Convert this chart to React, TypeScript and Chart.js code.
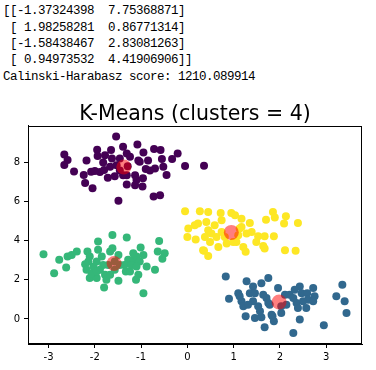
import { useEffect, useRef } from "react";
import { Chart, registerables } from "chart.js";

Chart.register(...registerables);

const outputLines = [
  "[[-1.37324398  7.75368871]",
  " [ 1.98258281  0.86771314]",
  " [-1.58438467  2.83081263]",
  " [ 0.94973532  4.41906906]]",
  "Calinski-Harabasz score: 1210.089914",
];

const chartTitle = "K-Means (clusters = 4)";

const clusterPurple = [
  [-1.54, 9.31], [-2.66, 8.4], [-2.59, 8.11], [-2.66, 7.86], [-2.45, 7.53], [-2.24, 7.35],
  [-2.21, 6.94], [-2.05, 6.67], [-2.18, 8.09], [-1.95, 8.64], [-1.94, 8.32], [-1.65, 8.63],
  [-1.39, 8.79], [-1.08, 8.91], [-1.31, 8.45], [-0.95, 8.5], [-0.72, 8.68], [-0.58, 8.63],
  [-0.21, 8.45], [-0.33, 8.17], [-0.55, 8.16], [-0.05, 7.81], [0.36, 7.82], [-0.7, 7.68],
  [-0.52, 7.77], [-0.45, 7.35], [-0.9, 7.65], [-1.03, 8.03], [-1.13, 7.34], [-1.1, 7.09],
  [-0.97, 6.76], [-1.13, 6.82], [-1.31, 6.86], [-2.08, 7.51], [-1.89, 7.5], [-1.82, 7.99],
  [-1.8, 7.6], [-1.72, 7.21], [-1.57, 7.28], [-1.67, 7.77], [-1.53, 7.85], [-1.49, 6.03],
  [-0.73, 6.25], [-0.59, 6.32], [-1.24, 8.28], [-1.39, 7.34], [-1.06, 8.09], [-1.31, 7.33],
  [-2.0, 7.55], [-1.46, 8.19], [-1.29, 7.79], [-0.85, 8.09], [-0.81, 7.58], [-1.63, 8.19],
  [-0.96, 7.18], [-1.46, 7.58], [-1.78, 8.35],
];

const clusterBlue = [
  [0.83, 2.17], [0.9, 1.03], [1.1, 1.32], [1.28, 1.92], [1.42, 1.66], [1.6, 1.83], [1.75, 2.09],
  [1.35, 1.32], [1.17, 0.9], [1.21, 0.65], [1.42, 0.9], [1.53, 0.65], [1.71, 1.07], [1.78, 0.73],
  [1.96, 1.58], [2.11, 1.24], [2.21, 1.24], [2.43, 1.66], [2.47, 1.32], [2.59, 1.32], [2.72, 1.58],
  [2.75, 1.16], [2.61, 0.98], [2.36, 0.81], [2.39, 0.56], [2.57, 0.56], [2.14, 0.73], [2.03, 0.31],
  [1.26, 0.14], [1.46, 0.05], [1.6, 0.09], [1.84, 0.14], [1.87, -0.12], [1.67, -0.42], [2.29, -0.71],
  [2.43, -0.03], [2.95, -0.32], [3.35, 1.75], [3.22, 1.16], [3.4, 0.9], [3.44, 0.31], [1.64, 1.24],
  [1.75, 0.81], [1.31, 0.73], [1.57, 0.39], [1.13, 1.16], [1.46, 1.32], [2.5, 0.9], [2.29, 1.07],
  [2.03, 0.65], [1.82, 0.22], [2.32, 1.49], [2.72, 0.9],
];

const clusterGreen = [
  [-3.11, 3.31], [-2.88, 2.34], [-2.77, 3.02], [-2.62, 2.63], [-2.59, 3.19], [-2.5, 3.27],
  [-2.39, 3.44], [-2.16, 3.44], [-2.11, 3.19], [-2.21, 2.8], [-2.18, 2.51], [-2.11, 2.09],
  [-1.96, 2.09], [-1.93, 3.95], [-1.93, 3.53], [-1.62, 4.29], [-1.62, 3.61], [-1.67, 3.44],
  [-1.31, 4.16], [-1.49, 3.27], [-1.85, 3.19], [-1.96, 2.94], [-2.03, 2.68], [-1.82, 2.76],
  [-1.89, 2.51], [-1.78, 2.26], [-1.75, 2.0], [-1.8, 1.61], [-1.67, 2.26], [-1.57, 2.51],
  [-1.49, 1.95], [-1.33, 2.43], [-1.24, 2.43], [-1.28, 3.02], [-1.17, 3.02], [-1.1, 3.19],
  [-1.01, 3.65], [-0.95, 3.27], [-1.03, 2.94], [-0.88, 2.68], [-0.7, 2.51], [-1.06, 2.26],
  [-1.11, 2.0], [-0.95, 1.32], [-0.61, 3.98], [-0.64, 3.44], [-0.49, 3.36], [-0.54, 3.07],
  [-1.36, 2.76], [-1.46, 2.76], [-1.57, 2.94], [-2.07, 2.34], [-1.21, 2.76], [-1.1, 2.68],
  [-1.17, 3.36], [-2.14, 2.94], [-1.71, 2.76], [-1.96, 2.43],
];

const clusterYellow = [
  [-0.05, 5.5], [0.27, 5.5], [0.45, 5.46], [0.72, 5.41], [0.95, 5.41], [1.03, 5.29], [1.17, 5.12],
  [1.35, 4.9], [1.7, 5.07], [1.85, 5.46], [1.89, 5.18], [2.13, 5.24], [2.09, 4.87], [2.39, 4.9],
  [0.02, 4.62], [0.0, 4.19], [0.18, 4.06], [0.23, 4.87], [0.41, 4.95], [0.45, 4.53], [0.52, 4.36],
  [0.59, 4.78], [0.74, 5.04], [0.49, 3.93], [0.67, 3.68], [0.34, 3.51], [0.45, 3.21], [0.85, 3.85],
  [1.06, 3.93], [1.21, 3.68], [1.26, 3.43], [1.1, 4.27], [1.28, 4.36], [1.39, 4.44], [1.49, 3.93],
  [1.64, 3.72], [1.67, 3.6], [1.53, 4.22], [1.67, 4.22], [1.87, 4.22], [2.11, 3.51], [2.34, 3.48],
  [1.17, 4.7], [0.38, 4.19], [0.63, 4.19], [0.74, 4.44], [0.81, 4.19], [1.13, 4.62], [0.99, 3.93],
  [0.16, 4.78], [0.36, 3.48],
];

const centroids = [
  [-1.37324398, 7.75368871],
  [1.98258281, 0.86771314],
  [-1.58438467, 2.83081263],
  [0.94973532, 4.41906906],
];

const clusters = [clusterPurple, clusterBlue, clusterGreen, clusterYellow];
const clusterColors = ["#440154", "#31688e", "#35b779", "#fde725"];
const centroidColor = "rgba(255,0,0,0.5)";

const xTicks = [-3, -2, -1, 0, 1, 2, 3];
const yTicks = [0, 2, 4, 6, 8];
const xRange = [-3.445, 3.775];
const yRange = [-1.276, 9.85];

const boxPlugin = {
  id: "axesBox",
  afterDraw(chart: any) {
    const { ctx, chartArea } = chart;
    ctx.save();
    ctx.strokeStyle = "#000";
    ctx.lineWidth = 1;
    ctx.strokeRect(
      Math.round(chartArea.left) + 0.5,
      Math.round(chartArea.top) + 0.5,
      Math.round(chartArea.right - chartArea.left) - 1,
      Math.round(chartArea.bottom - chartArea.top) - 1
    );
    ctx.restore();
  },
};

export default function App() {
  const ref = useRef<HTMLCanvasElement>(null);

  useEffect(() => {
    if (!ref.current) return;
    const toPts = (a: number[][]) => a.map(([x, y]) => ({ x, y }));
    const tickFont = { family: "DejaVu Sans", size: 10 };
    const chart = new Chart(ref.current, {
      type: "scatter",
      data: {
        datasets: [
          ...clusters.map((c, i) => ({
            label: "cluster " + i,
            data: toPts(c),
            backgroundColor: clusterColors[i],
            borderWidth: 0,
            pointRadius: 4,
            pointHoverRadius: 4,
            order: 2,
          })),
          {
            label: "centroids",
            data: toPts(centroids),
            backgroundColor: centroidColor,
            borderWidth: 0,
            pointRadius: 7.5,
            pointHoverRadius: 7.5,
            order: 1,
          },
        ],
      },
      options: {
        animation: false,
        responsive: false,
        maintainAspectRatio: false,
        events: [],
        layout: { padding: { left: 0, right: 14, top: 0, bottom: 0 } },
        plugins: {
          legend: { display: false },
          tooltip: { enabled: false },
          title: {
            display: true,
            text: chartTitle,
            color: "#000",
            fullSize: false,
            font: { family: "DejaVu Sans", size: 20.5, weight: "normal", lineHeight: 1.15 },
            padding: { top: 6.4, bottom: 0 },
          },
        },
        scales: {
          x: {
            type: "linear",
            min: xRange[0],
            max: xRange[1],
            afterBuildTicks: (s: any) => {
              s.ticks = xTicks.map((v) => ({ value: v }));
            },
            afterFit: (s: any) => {
              s.height = 26;
            },
            ticks: { color: "#000", font: tickFont, padding: 3, autoSkip: false, maxRotation: 0 },
            grid: { drawOnChartArea: false, drawTicks: true, tickLength: 4, color: "#000", tickWidth: 1 },
            border: { display: true, color: "#000", width: 1 },
          },
          y: {
            type: "linear",
            min: yRange[0],
            max: yRange[1],
            afterBuildTicks: (s: any) => {
              s.ticks = yTicks.map((v) => ({ value: v }));
            },
            afterFit: (s: any) => {
              s.width = 28;
            },
            ticks: { color: "#000", font: tickFont, padding: 4, autoSkip: false },
            grid: { drawOnChartArea: false, drawTicks: true, tickLength: 4, color: "#000", tickWidth: 1 },
            border: { display: true, color: "#000", width: 1 },
          },
        },
      },
      plugins: [boxPlugin],
    } as any);
    return () => chart.destroy();
  }, []);

  return (
    <div
      style={{
        position: "absolute",
        left: 0,
        top: 0,
        width: 376,
        height: 370,
        background: "#fff",
        overflow: "hidden",
      }}
    >
      <pre
        style={{
          position: "absolute",
          left: 3,
          top: 3.4,
          margin: 0,
          fontFamily: "'Liberation Mono', monospace",
          fontSize: "12.5px",
          letterSpacing: "-0.5px",
          lineHeight: "16.3px",
          color: "#000",
        }}
      >
        {outputLines.join("\n")}
      </pre>
      <canvas
        ref={ref}
        width={376}
        height={274}
        style={{ position: "absolute", left: 0, top: 96, display: "block" }}
      />
    </div>
  );
}
